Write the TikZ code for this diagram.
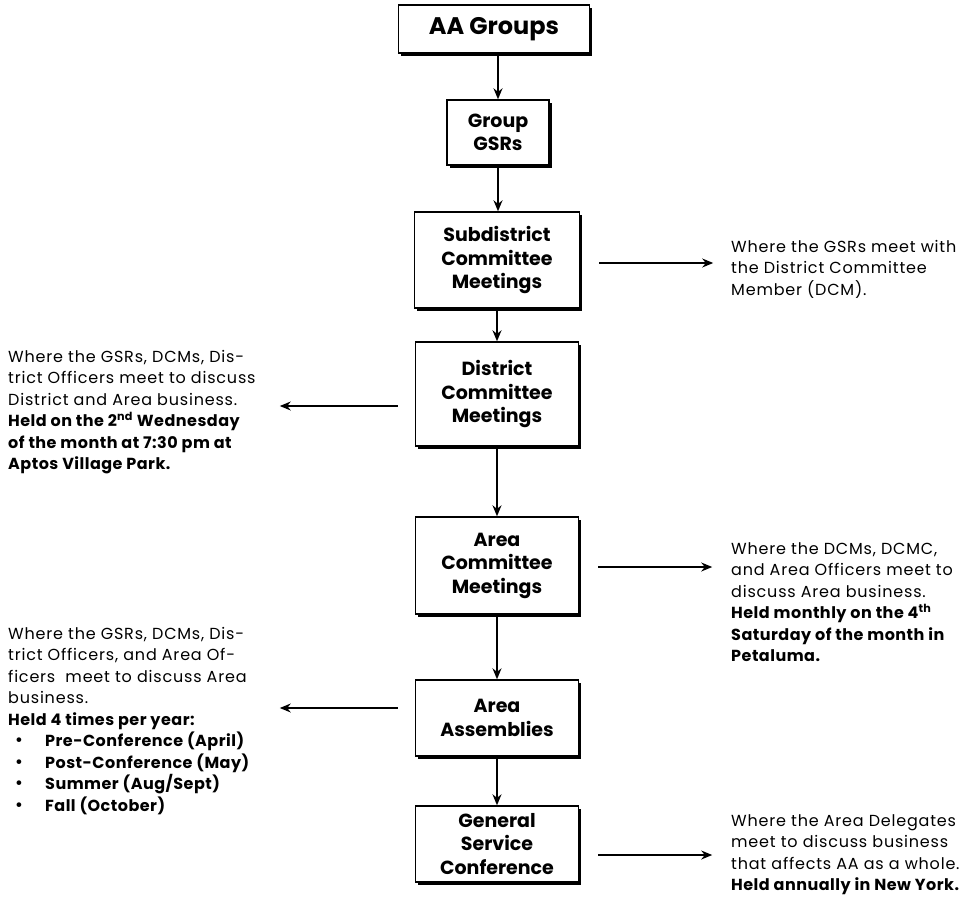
\documentclass[tikz,border=0pt]{standalone}
\usepackage{fontspec}
\setmainfont{Poppins}
\newfontfamily\descfam[LetterSpace=5,BoldFeatures={LetterSpace=3}]{Poppins}
\usetikzlibrary{arrows.meta,shadows}
\newcommand{\descfont}{\descfam\fontsize{16}{21.5}\selectfont}
\tikzset{
  boxnode/.style={draw=black, fill=white, line width=1.4pt, align=center,
    font=\fontsize{19}{23.5}\selectfont\bfseries, inner sep=2pt,
    drop shadow={shadow xshift=2.5pt, shadow yshift=-2.5pt, fill=black, opacity=1}},
  desc/.style={anchor=north west, align=left, inner sep=0pt, font=\descfont},
  arr/.style={line width=1.2pt, -{Stealth[length=11pt,width=9pt]}},
  varr/.style={arr, line width=1.6pt},
}
\newcommand{\blt}{\makebox[37pt][l]{\hspace{7pt}\smash{\fontsize{19}{21.5}\selectfont\textbullet}}}
\begin{document}
\begin{tikzpicture}[x=1pt,y=-1pt]
\useasboundingbox[fill=white] (0,0) rectangle (977,897);
\node[boxnode, minimum width=191pt, minimum height=48pt, font=\fontsize{24}{28}\selectfont\bfseries] (aa) at (494,29) {AA Groups};
\node[boxnode, minimum width=102pt, minimum height=65pt] (gsr) at (498,132.5) {Group\\GSRs};
\node[boxnode, minimum width=165pt, minimum height=96pt] (sub) at (497,260) {Subdistrict\\Committee\\Meetings};
\node[boxnode, minimum width=163pt, minimum height=104pt] (dist) at (497,394) {District\\Committee\\Meetings};
\node[boxnode, minimum width=163pt, minimum height=97pt] (area) at (497,565.5) {Area\\Committee\\Meetings};
\node[boxnode, minimum width=163pt, minimum height=76pt] (asm) at (497,718) {Area\\Assemblies};
\node[boxnode, minimum width=163pt, minimum height=76pt] (gsc) at (497,844) {General\\Service\\Conference};

\draw[varr] (aa.south -| gsr.north) -- (gsr.north);
\draw[varr] (gsr.south) -- (gsr.south |- sub.north);
\draw[varr] (sub.south) -- (dist.north);
\draw[varr] (dist.south) -- (area.north);
\draw[varr] (area.south) -- (asm.north);
\draw[varr] (asm.south) -- (gsc.north);

\node[desc] (t1) at (731,240) {Where the GSRs meet with\\the District Committee\\Member (DCM).};
\node[desc] (t2) at (8,350) {Where the GSRs, DCMs, Dis-\\trict Officers meet to discuss\\District and Area business.\\\textbf{Held on the 2\textsuperscript{nd} Wednesday}\\\textbf{of the month at 7:30 pm at}\\\textbf{Aptos Village Park.}};
\node[desc] (t3) at (731,542) {Where the DCMs, DCMC,\\and Area Officers meet to\\discuss Area business.\\\textbf{Held monthly on the 4\textsuperscript{th}}\\\textbf{Saturday of the month in}\\\textbf{Petaluma.}};
\node[desc] (t4) at (8,627) {Where the GSRs, DCMs, Dis-\\trict Officers, and Area Of-\\ficers\ \ meet to discuss Area\\business.\\\textbf{Held 4 times per year:}\\
\blt\textbf{Pre-Conference (April)}\\
\blt\textbf{Post-Conference (May)}\\
\blt\textbf{Summer (Aug/Sept)}\\
\blt\textbf{Fall (October)}};
\node[desc] (t5) at (731,814) {Where the Area Delegates\\meet to discuss business\\that affects AA as a whole.\\\textbf{Held annually in New York.}};

\draw[arr] ([xshift=19pt,yshift=-3pt]sub.east) -- ++(114,0);
\draw[arr] ([xshift=-17pt,yshift=-12pt]dist.west) -- ++(-118,0);
\draw[arr] ([xshift=19pt,yshift=-1.5pt]area.east) -- ++(114,0);
\draw[arr] ([xshift=-17pt,yshift=10pt]asm.west) -- ++(-118,0);
\draw[arr] ([xshift=19pt,yshift=-11pt]gsc.east) -- ++(114,0);
\end{tikzpicture}
\end{document}
